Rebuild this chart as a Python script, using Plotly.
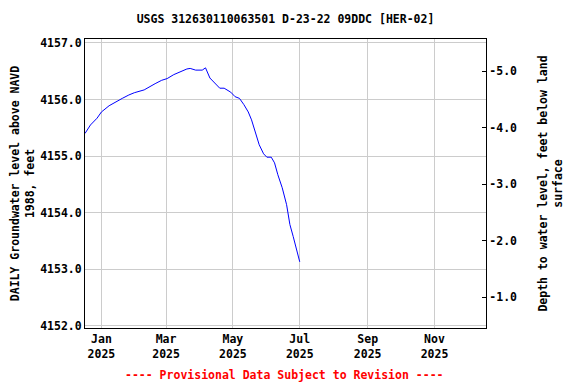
import plotly.graph_objects as go

dates = [
    "2024-12-17", "2024-12-18", "2024-12-22", "2024-12-28", "2025-01-01", "2025-01-08",
    "2025-01-14", "2025-01-20", "2025-01-26", "2025-01-31", "2025-02-09",
    "2025-02-13", "2025-02-19", "2025-02-25", "2025-03-02", "2025-03-08",
    "2025-03-14", "2025-03-20", "2025-03-23", "2025-03-28", "2025-04-03",
    "2025-04-06", "2025-04-10", "2025-04-15", "2025-04-19", "2025-04-23",
    "2025-04-29", "2025-05-03", "2025-05-07", "2025-05-11", "2025-05-15",
    "2025-05-18", "2025-05-21", "2025-05-25", "2025-05-29", "2025-06-01",
    "2025-06-05", "2025-06-08", "2025-06-11", "2025-06-15", "2025-06-19",
    "2025-06-22", "2025-06-25", "2025-06-28", "2025-07-01",
]
levels = [
    4155.40, 4155.43, 4155.55, 4155.67, 4155.78, 4155.89,
    4155.96, 4156.02, 4156.08, 4156.12, 4156.17,
    4156.22, 4156.28, 4156.34, 4156.37, 4156.44,
    4156.49, 4156.54, 4156.55, 4156.52, 4156.52,
    4156.56, 4156.38, 4156.27, 4156.20, 4156.20,
    4156.13, 4156.05, 4156.02, 4155.91, 4155.78,
    4155.64, 4155.44, 4155.20, 4155.04, 4154.98,
    4154.98, 4154.88, 4154.67, 4154.44, 4154.14,
    4153.79, 4153.58, 4153.35, 4153.13,
]
land_surface = 4151.5
depths = [land_surface - v for v in levels]

left_ticks = [4152.0, 4153.0, 4154.0, 4155.0, 4156.0, 4157.0]
right_ticks = [-1.0, -2.0, -3.0, -4.0, -5.0]
x_ticks = ["2025-01-01", "2025-03-01", "2025-05-01", "2025-07-01", "2025-09-01", "2025-11-01"]
x_labels = ["Jan<br>2025", "Mar<br>2025", "May<br>2025", "Jul<br>2025", "Sep<br>2025", "Nov<br>2025"]

FONT = "DejaVu Sans Mono"
fs = 11.5

# page body has an 8px default margin; figure sized to fill the rest of the window
W, H = 568, 376
L, R, T, B = 77, 90, 31, 56
plot_h = H - T - B

fig = go.Figure()
fig.add_trace(go.Scatter(x=dates, y=levels, mode="lines",
                         line=dict(color="#0000ff", width=1), showlegend=False))
fig.add_trace(go.Scatter(x=dates, y=depths, mode="lines", yaxis="y2",
                         line=dict(color="rgba(0,0,0,0)", width=1), showlegend=False,
                         hoverinfo="skip"))

fig.update_layout(
    width=W, height=H,
    margin=dict(l=L, r=R, t=T, b=B),
    paper_bgcolor="white", plot_bgcolor="white",
    font=dict(family=FONT, size=fs, color="black", weight="bold"),
    title=dict(text="USGS 312630110063501 D-23-22 09DDC [HER-02]",
               x=0.5, xref="paper", xanchor="center", y=1 - 11 / H, yanchor="middle",
               font=dict(family=FONT, size=fs, color="black", weight="bold")),
    xaxis=dict(range=["2024-12-17", "2025-12-18"], tickvals=x_ticks, ticktext=x_labels,
               showgrid=True, gridcolor="#cccccc", gridwidth=1,
               showline=True, linecolor="black", linewidth=1, mirror=True,
               ticks="", zeroline=False, automargin=False,
               tickfont=dict(family=FONT, size=fs, color="black", weight="bold")),
    yaxis=dict(range=[4151.96, 4157.07], tickvals=left_ticks,
               ticktext=[f"{v:.1f}" for v in left_ticks],
               showgrid=True, gridcolor="#cccccc", gridwidth=1,
               showline=True, linecolor="black", linewidth=1, mirror=True,
               ticks="", zeroline=False, automargin=False,
               title=dict(text="DAILY Groundwater level above NAVD<br>1988, feet", standoff=9,
                          font=dict(family=FONT, size=fs, color="black", weight="bold")),
               tickfont=dict(family=FONT, size=fs, color="black", weight="bold")),
    yaxis2=dict(range=[land_surface - 4151.96, land_surface - 4157.07], overlaying="y", side="right",
                tickvals=right_ticks, ticktext=[f"{v:.1f}" for v in right_ticks],
                showgrid=False, zeroline=False, automargin=False,
                showline=True, linecolor="black", linewidth=1,
                ticks="inside", ticklen=4, tickcolor="black",
                title=dict(text="Depth to water level, feet below land<br>surface", standoff=22,
                           font=dict(family=FONT, size=fs, color="black", weight="bold")),
                tickfont=dict(family=FONT, size=fs, color="black", weight="bold")),
)

fig.add_annotation(text="---- Provisional Data Subject to Revision ----",
                   xref="paper", yref="paper", x=(284 - 85) / 401, y=-(375 - 328) / plot_h,
                   xanchor="center", yanchor="middle", showarrow=False,
                   font=dict(family=FONT, size=fs, color="red", weight="bold"))

fig.write_html("out.html")
